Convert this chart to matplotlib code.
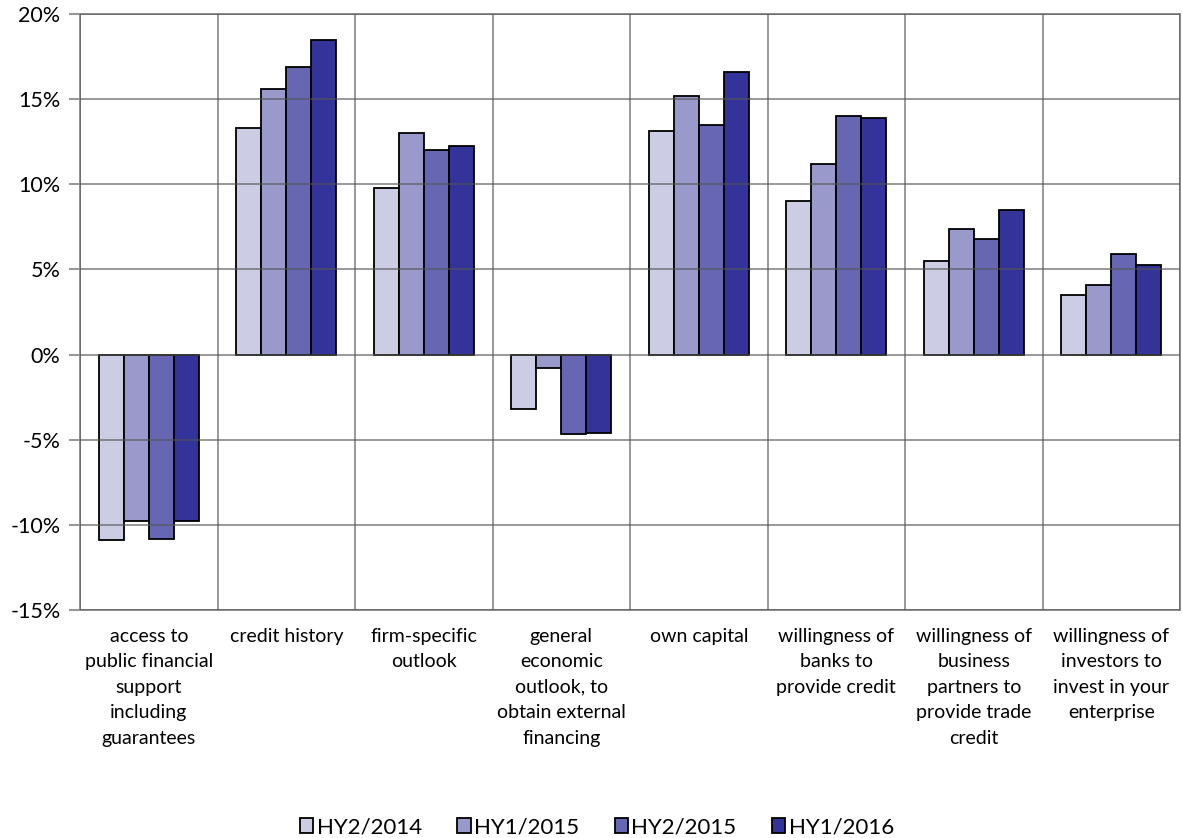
import numpy as np
import matplotlib
matplotlib.use("Agg")
import matplotlib.pyplot as plt
from matplotlib.ticker import FuncFormatter, FixedLocator

plt.rcParams['font.family'] = ['Lato', 'DejaVu Sans']

categories = [
  "access to\npublic financial\nsupport\nincluding\nguarantees",
  "credit history",
  "firm-specific\noutlook",
  "general\neconomic\noutlook, to\nobtain external\nfinancing",
  "own capital",
  "willingness of\nbanks to\nprovide credit",
  "willingness of\nbusiness\npartners to\nprovide trade\ncredit",
  "willingness of\ninvestors to\ninvest in your\nenterprise",
]
series_names = ["HY2/2014", "HY1/2015", "HY2/2015", "HY1/2016"]
hy2_2014 = [-10.9, 13.3, 9.8, -3.2, 13.1, 9.0, 5.5, 3.5]
hy1_2015 = [-9.8, 15.6, 13.0, -0.8, 15.2, 11.2, 7.4, 4.1]
hy2_2015 = [-10.85, 16.9, 12.0, -4.65, 13.5, 14.0, 6.8, 5.9]
hy1_2016 = [-9.8, 18.5, 12.25, -4.6, 16.6, 13.9, 8.5, 5.25]
colors = ["#ccccE5", "#9999cc", "#6666b2", "#333399"]

values = [hy2_2014, hy1_2015, hy2_2015, hy1_2016]

fig = plt.figure(figsize=(11.82, 8.38), dpi=100)
ax = fig.add_axes([80 / 1182, 1 - 610 / 838, 1100 / 1182, 596 / 838])

x = np.arange(len(categories))
w = 0.182
for i, (vals, name, col) in enumerate(zip(values, series_names, colors)):
  ax.bar(x + (i - 1.5) * w, vals, w, color=col, edgecolor="black",
         linewidth=1.3, label=name, zorder=2)

ax.set_xlim(-0.5, len(categories) - 0.5)
ax.set_ylim(-15, 20)
ax.yaxis.set_major_locator(FixedLocator(np.arange(-15, 21, 5)))
ax.yaxis.set_major_formatter(FuncFormatter(lambda v, p: "%d%%" % v))

## grid over the bars, vertical lines between categories
ax.set_xticks(x)
ax.set_xticklabels(categories, fontsize=14, linespacing=1.6, va="top")
ax.set_xticks(np.arange(-0.5, len(categories), 1), minor=True)
ax.tick_params(axis="x", which="major", length=0, pad=13)
ax.tick_params(axis="x", which="minor", length=0)
ax.tick_params(axis="y", length=8, width=1.3, color="#8c8c8c", labelsize=15.5, pad=6)
ax.grid(axis="y", which="major", color="#555555", alpha=0.6, linewidth=1.4, zorder=3)
ax.grid(axis="x", which="minor", color="#555555", alpha=0.6, linewidth=1.4, zorder=3)
ax.set_axisbelow(False)
for s in ax.spines.values():
  s.set_color("#8c8c8c")
  s.set_linewidth(1.4)

leg = ax.legend(loc="lower center", bbox_to_anchor=(0.47, -0.415), ncol=4,
                frameon=False, fontsize=16, handlelength=0.6, handleheight=0.6,
                handletextpad=0.15, columnspacing=1.6)
for p in leg.get_patches():
  p.set_linewidth(1.3)

fig.savefig("out.png", dpi=100)
